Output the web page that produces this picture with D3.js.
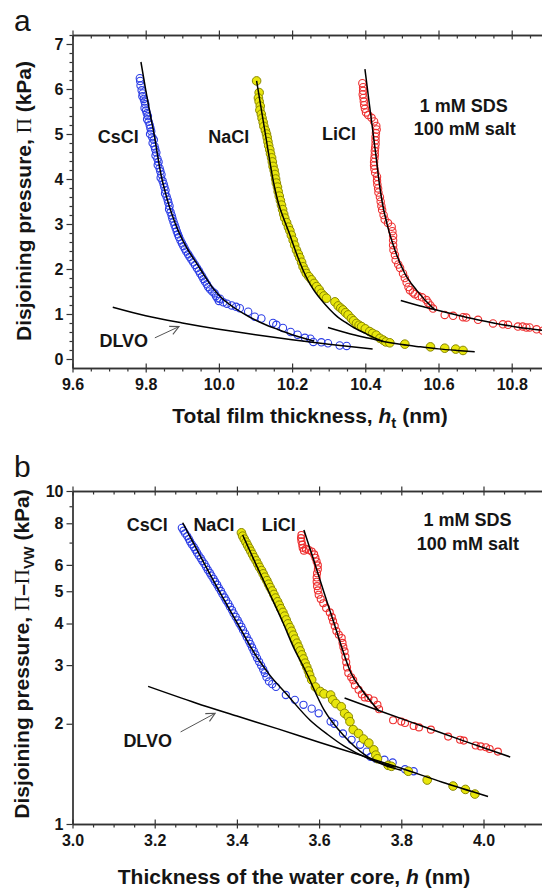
<!DOCTYPE html>
<html>
<head>
<meta charset="utf-8">
<script src="https://cdn.jsdelivr.net/npm/d3@7"></script>
<style>
    body { margin: 0; background: #fff; }
    svg { display: block; }
</style>
</head>
<body>
<div id="chart"></div>
<script>

/* panel a : disjoining pressure vs total film thickness */
const tickXA = [9.6, 9.8, 10.0, 10.2, 10.4, 10.6, 10.8];
const tickYA = [0, 1, 2, 3, 4, 5, 6, 7];

const csclA = [
    [9.784, 6.24], [9.785, 6.18], [9.786, 6.08], [9.789, 5.97], [9.792, 5.90], [9.791, 5.84], [9.795, 5.78],
    [9.797, 5.72], [9.799, 5.66], [9.797, 5.58], [9.801, 5.52], [9.803, 5.46], [9.806, 5.40], [9.804, 5.33],
    [9.808, 5.27], [9.811, 5.20], [9.813, 5.13], [9.815, 5.06], [9.812, 5.00], [9.818, 4.93], [9.822, 4.87],
    [9.819, 4.80], [9.824, 4.73], [9.826, 4.66], [9.829, 4.59], [9.827, 4.52], [9.832, 4.45], [9.835, 4.38],
    [9.833, 4.31], [9.838, 4.24], [9.840, 4.17], [9.843, 4.10], [9.841, 4.03], [9.846, 3.96], [9.849, 3.89],
    [9.851, 3.82], [9.854, 3.75], [9.853, 3.68], [9.857, 3.61], [9.860, 3.54], [9.862, 3.47], [9.865, 3.40],
    [9.864, 3.33], [9.868, 3.26], [9.871, 3.19], [9.873, 3.12], [9.876, 3.05], [9.879, 2.98], [9.882, 2.91],
    [9.885, 2.84], [9.888, 2.77], [9.891, 2.71], [9.895, 2.64], [9.899, 2.57], [9.903, 2.51], [9.907, 2.45],
    [9.911, 2.39], [9.916, 2.33], [9.920, 2.27], [9.925, 2.21], [9.930, 2.15], [9.935, 2.09], [9.940, 2.02],
    [9.945, 1.96], [9.949, 1.90], [9.954, 1.84], [9.958, 1.78], [9.962, 1.72], [9.967, 1.66], [9.971, 1.60],
    [9.976, 1.55], [9.982, 1.50], [9.988, 1.46], [9.992, 1.40], [9.996, 1.35], [10.000, 1.29], [10.003, 1.34],
    [10.012, 1.26], [10.022, 1.23], [10.035, 1.19], [10.047, 1.16], [10.057, 1.13], [10.080, 1.05],
    [10.098, 0.94], [10.116, 0.90], [10.148, 0.80], [10.157, 0.76], [10.175, 0.69], [10.196, 0.60],
    [10.215, 0.54], [10.235, 0.47], [10.250, 0.45], [10.258, 0.38], [10.280, 0.37], [10.298, 0.35],
    [10.330, 0.30], [10.349, 0.29]
];

const naclA = [
    [10.103, 6.18], [10.110, 5.92], [10.108, 5.80], [10.110, 5.72], [10.113, 5.62], [10.112, 5.53],
    [10.116, 5.44], [10.118, 5.35], [10.121, 5.26], [10.123, 5.17], [10.127, 5.08], [10.130, 5.00],
    [10.132, 4.92], [10.134, 4.83], [10.136, 4.74], [10.139, 4.65], [10.141, 4.56], [10.144, 4.47],
    [10.146, 4.38], [10.148, 4.28], [10.151, 4.19], [10.153, 4.10], [10.155, 4.00], [10.157, 3.91],
    [10.160, 3.82], [10.162, 3.72], [10.165, 3.62], [10.168, 3.52], [10.171, 3.42], [10.174, 3.32],
    [10.177, 3.22], [10.180, 3.13], [10.185, 3.03], [10.190, 2.93], [10.194, 2.85], [10.198, 2.75],
    [10.203, 2.64], [10.207, 2.53], [10.212, 2.42], [10.217, 2.33], [10.221, 2.25], [10.226, 2.15],
    [10.230, 2.05], [10.235, 1.97], [10.239, 1.90], [10.246, 1.83], [10.253, 1.76], [10.260, 1.68],
    [10.267, 1.61], [10.274, 1.54], [10.280, 1.46], [10.287, 1.40], [10.294, 1.35], [10.317, 1.27],
    [10.326, 1.18], [10.333, 1.13], [10.339, 1.09], [10.346, 1.03], [10.353, 0.98], [10.362, 0.90],
    [10.368, 0.85], [10.376, 0.79], [10.383, 0.75], [10.390, 0.72], [10.400, 0.67], [10.412, 0.61],
    [10.420, 0.57], [10.430, 0.53], [10.440, 0.46], [10.449, 0.42], [10.456, 0.38], [10.467, 0.36],
    [10.508, 0.33], [10.578, 0.27], [10.617, 0.24], [10.647, 0.22], [10.667, 0.19]
];

const liclA = [
    [10.392, 6.13], [10.394, 6.04], [10.394, 5.96], [10.393, 5.88], [10.395, 5.80], [10.396, 5.72],
    [10.397, 5.64], [10.399, 5.56], [10.402, 5.48], [10.408, 5.42], [10.417, 5.36], [10.424, 5.28],
    [10.430, 5.18], [10.431, 5.10], [10.429, 5.02], [10.428, 4.94], [10.428, 4.86], [10.428, 4.78],
    [10.427, 4.70], [10.426, 4.62], [10.426, 4.54], [10.425, 4.46], [10.424, 4.38], [10.424, 4.30],
    [10.425, 4.22], [10.427, 4.14], [10.432, 4.05], [10.432, 3.96], [10.433, 3.88], [10.435, 3.79],
    [10.436, 3.70], [10.440, 3.60], [10.442, 3.50], [10.444, 3.40], [10.446, 3.31], [10.450, 3.20],
    [10.453, 3.10], [10.462, 3.02], [10.472, 2.94], [10.474, 2.84], [10.476, 2.74], [10.476, 2.64],
    [10.476, 2.53], [10.477, 2.42], [10.481, 2.31], [10.483, 2.20], [10.490, 2.10], [10.495, 2.02],
    [10.503, 1.90], [10.508, 1.80], [10.513, 1.70], [10.518, 1.60], [10.522, 1.53], [10.530, 1.48],
    [10.535, 1.44], [10.545, 1.40], [10.555, 1.37], [10.567, 1.31], [10.572, 1.25], [10.578, 1.19],
    [10.585, 1.12], [10.617, 0.98], [10.640, 0.96], [10.667, 0.93], [10.676, 0.92], [10.708, 0.87],
    [10.749, 0.79], [10.776, 0.77], [10.790, 0.76], [10.817, 0.72], [10.830, 0.72], [10.840, 0.70],
    [10.849, 0.70], [10.868, 0.66], [10.885, 0.63]
];

const csclFitA = [
    [9.787, 6.6], [9.800, 5.98], [9.812, 5.45], [9.823, 4.99], [9.833, 4.5], [9.843, 4.05], [9.853, 3.72],
    [9.865, 3.38], [9.880, 3.03], [9.895, 2.74], [9.915, 2.43], [9.939, 2.13], [9.960, 1.86], [9.984, 1.57],
    [10.010, 1.34], [10.040, 1.15], [10.080, 0.95], [10.120, 0.79], [10.160, 0.66], [10.200, 0.54],
    [10.260, 0.40]
];
const naclFitA = [
    [10.103, 6.18], [10.128, 4.95], [10.148, 3.98], [10.163, 3.45], [10.178, 3.1], [10.191, 2.82],
    [10.205, 2.5], [10.221, 2.15], [10.240, 1.8], [10.257, 1.56], [10.280, 1.31], [10.303, 1.1],
    [10.325, 0.93], [10.349, 0.8], [10.375, 0.67], [10.403, 0.56], [10.425, 0.47], [10.449, 0.39]
];
const liclFitA = [
    [10.399, 6.44], [10.409, 5.8], [10.420, 5.1], [10.430, 4.46], [10.438, 3.92], [10.447, 3.45],
    [10.460, 2.98], [10.481, 2.42], [10.508, 1.9], [10.540, 1.53], [10.585, 1.13], [10.592, 1.08]
];
const dlvoCsA = [
    [9.71, 1.15], [9.80, 0.96], [9.90, 0.80], [10.0, 0.66], [10.1, 0.54], [10.2, 0.43], [10.3, 0.33], [10.42, 0.22]
];
const dlvoNaA = [
    [10.298, 0.70], [10.35, 0.58], [10.40, 0.48], [10.449, 0.39], [10.50, 0.32], [10.55, 0.27], [10.60, 0.225],
    [10.65, 0.19], [10.699, 0.16]
];
const dlvoLiA = [
    [10.497, 1.30], [10.55, 1.18], [10.60, 1.08], [10.65, 0.98], [10.713, 0.86], [10.75, 0.80], [10.80, 0.73],
    [10.85, 0.67], [10.90, 0.62]
];

/* panel b : pressure minus van der Waals vs water core thickness */
const tickXB = [3.0, 3.2, 3.4, 3.6, 3.8, 4.0];
const tickYB = [1, 2, 3, 4, 5, 6, 8, 10];
const minorYB = [7, 9];

const csclB = [
    [3.266, 7.75], [3.270, 7.60], [3.274, 7.46], [3.279, 7.32], [3.283, 7.18], [3.286, 7.05], [3.290, 6.92],
    [3.295, 6.79], [3.299, 6.66], [3.303, 6.53], [3.307, 6.41], [3.312, 6.28], [3.316, 6.16], [3.321, 6.04],
    [3.325, 5.92], [3.329, 5.80], [3.334, 5.68], [3.338, 5.57], [3.343, 5.45], [3.347, 5.34], [3.352, 5.23],
    [3.356, 5.12], [3.361, 5.01], [3.365, 4.90], [3.370, 4.79], [3.374, 4.69], [3.379, 4.59], [3.383, 4.49],
    [3.388, 4.39], [3.392, 4.29], [3.397, 4.19], [3.402, 4.09], [3.406, 4.00], [3.411, 3.91], [3.415, 3.82],
    [3.420, 3.73], [3.424, 3.64], [3.429, 3.55], [3.433, 3.47], [3.437, 3.39], [3.441, 3.31], [3.445, 3.23],
    [3.449, 3.15], [3.454, 3.07], [3.459, 2.99], [3.464, 2.91], [3.468, 2.84], [3.472, 2.76], [3.478, 2.68],
    [3.486, 2.63], [3.495, 2.58], [3.519, 2.44], [3.541, 2.36], [3.562, 2.28], [3.582, 2.22], [3.599, 2.15],
    [3.628, 2.03], [3.637, 2.00], [3.658, 1.87], [3.679, 1.79], [3.700, 1.73], [3.716, 1.65], [3.725, 1.59],
    [3.738, 1.57], [3.759, 1.56], [3.779, 1.53], [3.809, 1.46], [3.830, 1.44]
];

const naclB = [
    [3.411, 7.49], [3.414, 7.32], [3.418, 7.17], [3.422, 7.02], [3.426, 6.87], [3.430, 6.73], [3.434, 6.59],
    [3.438, 6.45], [3.442, 6.31], [3.447, 6.17], [3.451, 6.03], [3.455, 5.90], [3.460, 5.77], [3.464, 5.64],
    [3.468, 5.51], [3.473, 5.38], [3.477, 5.25], [3.481, 5.13], [3.486, 5.01], [3.490, 4.89], [3.494, 4.77],
    [3.499, 4.65], [3.503, 4.54], [3.507, 4.43], [3.512, 4.32], [3.516, 4.21], [3.520, 4.10], [3.524, 3.99],
    [3.529, 3.89], [3.533, 3.79], [3.537, 3.69], [3.541, 3.59], [3.546, 3.49], [3.550, 3.40], [3.554, 3.31],
    [3.558, 3.22], [3.562, 3.13], [3.566, 3.04], [3.570, 2.96], [3.574, 2.88], [3.577, 2.80], [3.582, 2.71],
    [3.591, 2.58], [3.603, 2.50], [3.612, 2.46], [3.628, 2.44], [3.633, 2.36], [3.641, 2.30], [3.654, 2.25],
    [3.662, 2.15], [3.671, 2.10], [3.675, 2.03], [3.683, 1.92], [3.696, 1.87], [3.708, 1.80], [3.721, 1.75],
    [3.733, 1.67], [3.738, 1.61], [3.742, 1.57], [3.768, 1.50], [3.776, 1.49], [3.817, 1.44], [3.863, 1.355],
    [3.926, 1.30], [3.956, 1.27], [3.979, 1.23]
];

const liclB = [
    [3.557, 7.38], [3.556, 7.22], [3.557, 7.06], [3.559, 6.90], [3.560, 6.75], [3.563, 6.62], [3.568, 6.70],
    [3.575, 6.65], [3.582, 6.58], [3.588, 6.45], [3.591, 6.30], [3.594, 6.14], [3.597, 5.98], [3.597, 5.82],
    [3.595, 5.66], [3.594, 5.50], [3.594, 5.34], [3.595, 5.18], [3.597, 5.03], [3.599, 4.88], [3.604, 4.74],
    [3.610, 4.60], [3.617, 4.45], [3.626, 4.32], [3.631, 4.18], [3.634, 4.06], [3.638, 3.93], [3.642, 3.80],
    [3.648, 3.70], [3.655, 3.62], [3.657, 3.50], [3.659, 3.40], [3.662, 3.30], [3.664, 3.18], [3.666, 3.06],
    [3.668, 2.95], [3.671, 2.84], [3.678, 2.76], [3.683, 2.70], [3.687, 2.61], [3.696, 2.53], [3.704, 2.45],
    [3.711, 2.40], [3.720, 2.39], [3.733, 2.35], [3.742, 2.28], [3.746, 2.21], [3.780, 2.05], [3.800, 2.03],
    [3.809, 2.01], [3.830, 1.97], [3.843, 1.95], [3.872, 1.92], [3.914, 1.83], [3.943, 1.79], [3.952, 1.78],
    [3.981, 1.72], [3.993, 1.71], [4.006, 1.70], [4.015, 1.68], [4.035, 1.65]
];

const csclFitB = [
    [3.268, 8.03], [3.309, 6.44], [3.351, 5.16], [3.399, 4.05], [3.448, 3.18], [3.480, 2.80], [3.519, 2.47],
    [3.578, 2.05], [3.620, 1.86], [3.662, 1.71], [3.721, 1.57], [3.784, 1.48]
];
const naclFitB = [
    [3.414, 7.38], [3.447, 6.0], [3.477, 5.0], [3.513, 4.0], [3.537, 3.41], [3.566, 2.90], [3.612, 2.20],
    [3.662, 1.83], [3.712, 1.61], [3.760, 1.50], [3.800, 1.45]
];
const liclFitB = [
    [3.563, 7.64], [3.586, 6.25], [3.610, 5.04], [3.638, 3.95], [3.660, 3.25], [3.677, 2.85], [3.704, 2.53],
    [3.746, 2.18]
];
const dlvoB = [
    [3.184, 2.59], [3.3, 2.31], [3.4, 2.11], [3.5, 1.93], [3.6, 1.76], [3.7, 1.61], [3.8, 1.47], [3.9, 1.335],
    [4.011, 1.21]
];
const dlvoLiB = [
    [3.662, 2.39], [3.75, 2.18], [3.85, 1.97], [3.95, 1.78], [4.065, 1.59]
];


const W = 542, H = 890;
const FONT = "'Liberation Sans', Arial, sans-serif";
const SERIF = "'Liberation Serif', 'Times New Roman', serif";
const INK = "#151515";

const svg = d3.select("#chart").append("svg")
    .attr("width", W)
    .attr("height", H)
    .attr("font-family", FONT);

svg.append("defs").append("marker")
    .attr("id", "arrow")
    .attr("viewBox", "0 0 10 10")
    .attr("refX", 9)
    .attr("refY", 5)
    .attr("markerWidth", 11)
    .attr("markerHeight", 11)
    .attr("markerUnits", "userSpaceOnUse")
    .attr("orient", "auto")
    .append("path")
    .attr("d", "M1,1 L9,5 L1,9")
    .attr("fill", "none")
    .attr("stroke", "#555")
    .attr("stroke-width", 1);


class PanelVis {

    constructor(svg, config) {
        this.svg = svg;
        this.config = config;
        this.initVis();
    }

    initVis() {
        let vis = this;
        let c = vis.config;

        vis.x = c.x;
        vis.y = c.y;
        vis.left = c.x.range()[0];
        vis.top = c.y.range()[1];
        vis.bottom = c.y.range()[0];

        vis.g = vis.svg.append("g");

        // axes
        vis.drawAxis(d3.axisLeft(vis.y).tickValues(c.yTicks).tickFormat(c.yFormat).tickSize(6).tickPadding(3),
            `translate(${vis.left},0)`, true);
        vis.drawAxis(d3.axisLeft(vis.y).tickValues(c.yMinor).tickFormat("").tickSize(3),
            `translate(${vis.left},0)`, false);

        let bx = vis.drawAxis(d3.axisBottom(vis.x).tickValues(c.xTicks).tickFormat(d3.format(".1f")).tickSize(4.5).tickPadding(6),
            `translate(0,${vis.bottom})`, true);
        bx.selectAll(".tick line").attr("y1", -4.5);
        vis.drawAxis(d3.axisBottom(vis.x).tickValues(c.xMinor).tickFormat("").tickSize(3.5),
            `translate(0,${vis.bottom})`, false);

        let tx = vis.drawAxis(d3.axisTop(vis.x).tickValues(c.xTicks).tickFormat("").tickSize(4.5),
            `translate(0,${vis.top})`, false);
        tx.selectAll(".tick line").attr("y1", 4.5);
        vis.drawAxis(d3.axisTop(vis.x).tickValues(c.xMinor).tickFormat("").tickSize(-3.5),
            `translate(0,${vis.top})`, false);

        vis.line = d3.line()
            .x(d => vis.x(d[0]))
            .y(d => vis.y(d[1]))
            .curve(d3.curveMonotoneX);

        vis.plot = vis.g.append("g");

        // measured points
        c.series.forEach(s => {
            vis.plot.append("g")
                .selectAll("circle")
                .data(s.data)
                .enter()
                .append("circle")
                .attr("cx", d => vis.x(d[0]))
                .attr("cy", d => vis.y(d[1]))
                .attr("r", s.r)
                .attr("fill", s.fill)
                .attr("stroke", s.stroke)
                .attr("stroke-width", s.sw);
        });

        // fitted and DLVO curves on top
        c.curves.forEach(cv => {
            vis.plot.append("path")
                .attr("d", vis.line(cv))
                .attr("fill", "none")
                .attr("stroke", "#000")
                .attr("stroke-width", 1.5);
        });

        // labels
        c.labels.forEach(l => {
            vis.g.append("text")
                .attr("x", vis.x(l.x))
                .attr("y", vis.y(l.y))
                .attr("text-anchor", "middle")
                .attr("font-size", 18)
                .attr("font-weight", "bold")
                .attr("fill", INK)
                .text(l.text);
        });

        // DLVO arrow
        vis.g.append("line")
            .attr("x1", vis.x(c.arrow[0][0]))
            .attr("y1", vis.y(c.arrow[0][1]))
            .attr("x2", vis.x(c.arrow[1][0]))
            .attr("y2", vis.y(c.arrow[1][1]))
            .attr("stroke", "#555")
            .attr("stroke-width", 1)
            .attr("marker-end", "url(#arrow)");

        // panel letter
        vis.g.append("text")
            .attr("x", 14)
            .attr("y", c.letterY)
            .attr("font-size", 30)
            .attr("fill", INK)
            .text(c.letter);
    }

    drawAxis(axis, transform, labelled) {
        let vis = this;
        let a = vis.g.append("g")
            .attr("transform", transform)
            .call(axis.tickSizeOuter(0));
        a.attr("font-family", FONT).attr("font-size", 16).attr("font-weight", "bold");
        a.select(".domain").attr("stroke", "#333").attr("stroke-width", 1.3);
        a.selectAll(".tick line").attr("stroke", "#333").attr("stroke-width", 1.2);
        if (labelled) a.selectAll(".tick text").attr("fill", INK);
        return a;
    }
}


// panel a
let xA = d3.scaleLinear().domain([9.6, 11.0]).range([72.5, 72.5 + 1.4 * 366]);
let yA = d3.scaleLinear().domain([-0.2, 7.2]).range([368, 35]);

let panelA = new PanelVis(svg, {
    x: xA,
    y: yA,
    xTicks: tickXA,
    xMinor: d3.range(0, 29).map(i => 9.6 + i * 0.05).filter(v => Math.round(v * 100) % 20 !== 0),
    yTicks: tickYA,
    yMinor: d3.range(0, 37).map(i => i * 0.2).filter(v => Math.abs(v - Math.round(v)) > 0.01),
    yFormat: d3.format("d"),
    series: [
        {data: csclA, r: 3.7, fill: "none", stroke: "#2b3de6", sw: 1.1},
        {data: naclA, r: 4.3, fill: "#e8e60c", stroke: "#8a8700", sw: 1},
        {data: liclA, r: 3.7, fill: "none", stroke: "#ee3030", sw: 1.1}
    ],
    curves: [csclFitA, naclFitA, liclFitA, dlvoCsA, dlvoNaA, dlvoLiA],
    labels: [
        {text: "CsCl", x: 9.725, y: 4.8},
        {text: "NaCl", x: 10.027, y: 4.8},
        {text: "LiCl", x: 10.328, y: 4.87},
        {text: "1 mM SDS", x: 10.669, y: 5.49},
        {text: "100 mM salt", x: 10.672, y: 4.98},
        {text: "DLVO", x: 9.74, y: 0.27}
    ],
    arrow: [[9.825, 0.47], [9.891, 0.72]],
    letter: "a",
    letterY: 31
});

// panel b
let xB = d3.scaleLinear().domain([3.0, 4.2]).range([72.5, 72.5 + 1.2 * 411]);
let yB = d3.scaleLog().domain([1, 10]).range([824, 491]);

let panelB = new PanelVis(svg, {
    x: xB,
    y: yB,
    xTicks: tickXB,
    xMinor: d3.range(0, 25).map(i => 3.0 + i * 0.05).filter(v => Math.round(v * 100) % 20 !== 0),
    yTicks: tickYB,
    yMinor: minorYB,
    yFormat: d3.format("d"),
    series: [
        {data: csclB, r: 3.6, fill: "none", stroke: "#2b3de6", sw: 1.1},
        {data: naclB, r: 4.3, fill: "#e8e60c", stroke: "#8a8700", sw: 1},
        {data: liclB, r: 3.5, fill: "none", stroke: "#ee3030", sw: 1.1}
    ],
    curves: [csclFitB, naclFitB, liclFitB, dlvoB, dlvoLiB],
    labels: [
        {text: "CsCl", x: 3.182, y: 7.59},
        {text: "NaCl", x: 3.344, y: 7.59},
        {text: "LiCl", x: 3.502, y: 7.59},
        {text: "1 mM SDS", x: 3.961, y: 7.85},
        {text: "100 mM salt", x: 3.962, y: 6.65},
        {text: "DLVO", x: 3.183, y: 1.70}
    ],
    arrow: [[3.263, 1.89], [3.347, 2.15]],
    letter: "b",
    letterY: 477
});


// axis titles
function yTitle(tx, ty, parts) {
    let t = svg.append("text")
        .attr("transform", `translate(${tx},${ty}) rotate(-90)`)
        .attr("text-anchor", "middle")
        .attr("font-size", 21)
        .attr("font-weight", "bold")
        .attr("fill", INK);
    parts(t);
}

yTitle(31, 201, t => {
    t.append("tspan").text("Disjoining pressure, ");
    t.append("tspan").attr("font-family", SERIF).attr("font-weight", "normal").text("Π");
    t.append("tspan").text(" (kPa)");
});

yTitle(29, 654, t => {
    t.append("tspan").text("Disjoining pressure, ");
    t.append("tspan").attr("font-family", SERIF).attr("font-weight", "normal").text("Π");
    t.append("tspan").text("–");
    t.append("tspan").attr("font-family", SERIF).attr("font-weight", "normal").text("Π");
    t.append("tspan").attr("font-size", 14).attr("dy", 5).text("VW");
    t.append("tspan").attr("dy", -5).text(" (kPa)");
});

let xtA = svg.append("text")
    .attr("x", 310)
    .attr("y", 423)
    .attr("text-anchor", "middle")
    .attr("font-size", 21)
    .attr("font-weight", "bold")
    .attr("fill", INK);
xtA.append("tspan").text("Total film thickness, ");
xtA.append("tspan").attr("font-style", "italic").text("h");
xtA.append("tspan").attr("font-size", 15).attr("dy", 5).text("t");
xtA.append("tspan").attr("dy", -5).text(" (nm)");

let xtB = svg.append("text")
    .attr("x", 294)
    .attr("y", 884)
    .attr("text-anchor", "middle")
    .attr("font-size", 21)
    .attr("font-weight", "bold")
    .attr("fill", INK);
xtB.append("tspan").text("Thickness of the water core, ");
xtB.append("tspan").attr("font-style", "italic").text("h");
xtB.append("tspan").text(" (nm)");

</script>
</body>
</html>
